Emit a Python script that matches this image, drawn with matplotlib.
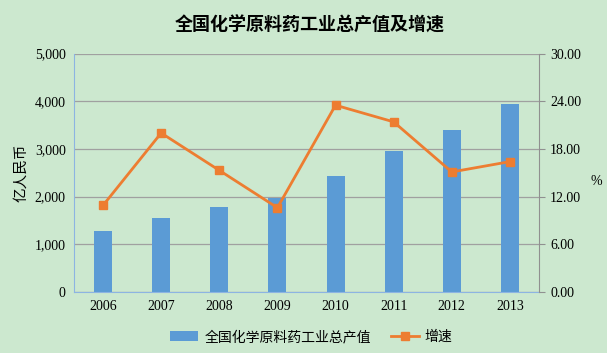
import matplotlib
matplotlib.use('Agg')
import matplotlib.pyplot as plt
import numpy as np

years = ['2006', '2007', '2008', '2009', '2010', '2011', '2012', '2013']
output_value = [1280, 1548, 1779, 1968, 2423, 2956, 3403, 3950]   # 亿人民币
growth_rate = [10.9, 20.0, 15.3, 10.6, 23.5, 21.4, 15.1, 16.4]     # %

bg = '#CCE8CF'
bar_col = '#5B9BD5'
line_col = '#ED7D31'
serif = ['Liberation Serif', 'DejaVu Serif']
cjk = ['Noto Sans CJK SC', 'DejaVu Sans']

fig = plt.figure(figsize=(6.07, 3.53), dpi=100, facecolor=bg)
ax = fig.add_axes([0.1219, 0.1728, 0.766, 0.6756], facecolor=bg)
ax2 = ax.twinx()

x = np.arange(len(years))
bars = ax.bar(x, output_value, width=0.31, color=bar_col, zorder=2,
              label='全国化学原料药工业总产值')
line, = ax2.plot(x, growth_rate, color=line_col, lw=2, marker='s', ms=6,
                 zorder=3, label='增速')

ax.set_xlim(-0.5, len(years) - 0.5)
ax.set_ylim(0, 5000)
ax.set_yticks(range(0, 5001, 1000))
ax.set_yticklabels([f'{v:,}' for v in range(0, 5001, 1000)], family=serif, fontsize=10)
ax.set_xticks(x)
ax.set_xticklabels(years, family=serif, fontsize=10)
ax.yaxis.grid(True, color='#A0A0A0', lw=0.9, zorder=0)
ax.set_axisbelow(True)
ax.tick_params(axis='both', length=0, pad=6, colors='#000000')

ax2.set_ylim(0, 30)
ax2.set_yticks(np.arange(0, 30.1, 6))
ax2.set_yticklabels([f'{v:.2f}' for v in np.arange(0, 30.1, 6)], family=serif, fontsize=10)
ax2.tick_params(axis='y', length=4, color='#909090', pad=4)

for a in (ax, ax2):
    a.spines['top'].set_visible(False)
ax.spines['left'].set_color('#8DB4E2')
ax.spines['bottom'].set_color('#8DB4E2')
ax.spines['right'].set_visible(False)
ax2.spines['left'].set_visible(False)
ax2.spines['bottom'].set_visible(False)
ax2.spines['right'].set_color('#909090')

ax.set_ylabel('亿人民币', family=cjk, fontsize=10.5, labelpad=5)
fig.text(0.983, 0.485, '%', family=serif, fontsize=10, ha='center', va='center')

fig.text(0.511, 0.928, '全国化学原料药工业总产值及增速', family=cjk, fontsize=13,
         fontweight='bold', ha='center', va='center')

leg = fig.legend([bars, line], ['全国化学原料药工业总产值', '增速'],
                 loc='center', bbox_to_anchor=(0.513, 0.045), ncol=2, frameon=False,
                 prop={'family': cjk, 'size': 10}, handlelength=2.0, columnspacing=1.45,
                 handletextpad=0.45)

fig.savefig('out.png', dpi=100, facecolor=bg)
